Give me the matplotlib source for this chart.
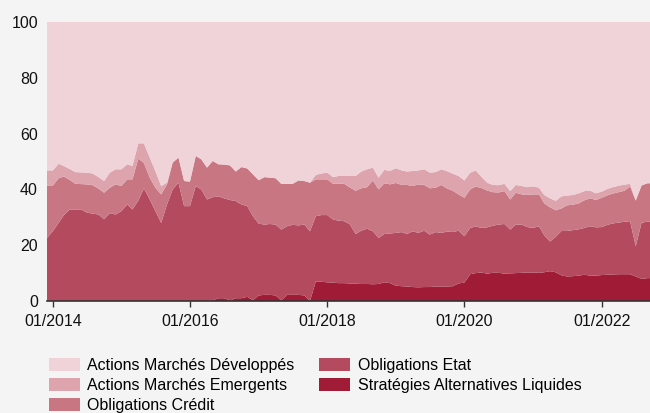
import matplotlib
matplotlib.use("Agg")
import matplotlib.pyplot as plt
import matplotlib.dates as mdates
from matplotlib.patches import Patch
import pandas as pd
import numpy as np

plt.rcParams['font.family'] = ['Liberation Sans', 'DejaVu Sans']

dates = pd.date_range('2013-12-01', periods=107, freq='MS')

strategies = ([0] * 29 +
              [0.3, 1.0, 1.0, 0.2, 1.0, 1.0, 1.5, 0.3, 2.0, 2.2, 2.2, 2.0, 0.2, 2.2, 2.2, 2.2, 2.0, 0] +
              [7.0, 6.9, 6.7, 6.6, 6.4, 6.4, 6.3, 6.2, 6.1, 6.1,
               6.0, 6.1, 6.7, 6.4, 5.5, 5.3, 5.2, 5.0, 4.9, 5.0,
               5.0, 5.2, 5.2, 5.2, 5.3, 6.3, 6.6, 9.6, 10.0, 10.2,
               9.8, 10.1, 10.1, 9.8, 9.9, 10.0, 10.1, 10.2, 10.2, 10.1,
               10.3, 10.7, 10.3, 9.2, 8.8, 8.9, 9.1, 9.4, 9.1, 9.1,
               9.3, 9.4, 9.5, 9.6, 9.6, 9.6, 8.8, 7.9, 8.2, 8.2])
etat = [22.6, 25.0, 28.0, 30.8, 32.8, 32.8, 32.8, 31.7, 31.3, 31.0, 29.3, 31.5, 31.0, 32.2, 34.6,
        32.8, 36.0, 40.3, 36.4, 32.2, 28.0, 34.6, 40.0, 42.4, 34.0, 34.0, 41.2, 40.0, 36.4, 36.9,
        36.5, 35.8, 36.0, 34.8, 33.6, 32.5, 30.1, 25.7, 25.2, 25.4, 25.4, 25.4, 24.6, 25.1, 24.9,
        25.4, 25.0, 23.4, 23.9, 24.1, 22.6, 22.4, 22.2, 21.2, 17.8, 19.1, 19.8, 19.0, 16.5, 17.3,
        17.8, 18.9, 19.4, 18.8, 20.0, 19.5, 20.2, 18.8, 19.5, 19.2, 19.7, 19.4, 18.9, 16.6, 16.6,
        16.7, 16.0, 16.6, 16.9, 17.3, 17.8, 15.7, 17.4, 17.3, 16.3, 16.0, 16.7, 13.2, 10.6, 12.7,
        15.9, 16.3, 16.5, 16.6, 16.8, 17.7, 17.3, 17.2, 17.9, 18.3, 18.5, 18.8, 19.0, 10.8, 20.1,
        20.3, 20.3]
credit = [18.8, 16.4, 16.0, 13.8, 10.6, 9.2, 9.1, 10.1, 10.2, 9.3, 9.5, 9.1, 10.8, 9.0, 9.0,
          10.8, 15.0, 9.2, 7.8, 8.4, 10.2, 7.2, 9.6, 9.0, 9.0, 8.8, 10.8, 10.8, 11.4, 13.0, 11.5,
          12.1, 12.4, 10.6, 13.4, 13.5, 15.0, 15.6, 17.0, 16.6, 16.6, 16.4, 15.2, 14.7, 16.1, 15.6,
          17.4, 13.2, 12.8, 12.8, 12.8, 13.2, 13.4, 13.2, 15.5, 15.2, 14.9, 18.2, 17.4, 18.2, 17.6,
          17.9, 16.9, 17.6, 16.2, 17.4, 16.4, 16.6, 15.9, 17.2, 15.4, 14.8, 13.0, 13.8, 13.8, 14.3,
          14.3, 13.2, 12.0, 11.5, 11.8, 10.8, 11.4, 10.8, 11.5, 12.0, 11.4, 11.5, 12.3, 9.5, 8.1,
          9.2, 9.1, 9.3, 9.9, 10.0, 9.8, 10.5, 10.6, 10.7, 10.9, 11.1, 12.4, 16.4, 13.4, 13.7, 13.7]
emergents = ([5.4, 5.4, 5.2, 3.8, 3.9, 4.2, 4.2, 4.2, 4.2, 4.1, 4.2, 5.4, 5.4, 6.0, 5.4, 4.8, 5.5,
              7.0, 7.2, 6.0, 3.0, 0.6] +
             [0] * 25 +
             [1.6, 2.1, 2.4, 2.4, 2.8, 3.0, 4.1, 5.3, 6.0, 6.4,
              4.6, 4.2, 4.8, 4.8, 5.3, 5.2, 4.8, 5.4, 5.0, 5.6,
              5.6, 5.6, 5.6, 6.2, 6.1, 6.6, 6.2, 6.0, 5.8, 4.0,
              2.8, 2.6, 2.6, 2.6, 3.0, 2.8, 3.0, 2.8, 2.9, 2.4,
              3.0, 3.2, 3.4, 4.3, 3.5, 3.5, 3.6, 3.3, 2.7, 2.4,
              2.2, 2.3, 2.3, 2.3, 2.2, 1.0, 0, 0, 0, 0])
developpes = [53.2, 53.2, 50.8, 51.6, 52.7, 53.8, 53.9, 54.0, 54.3, 55.6, 57.0, 54.0, 52.8, 52.8,
              51.0, 51.6, 43.5, 43.5, 48.6, 53.4, 58.8, 57.6, 50.4, 48.6, 57.0, 57.2, 48.0, 49.2,
              52.2, 49.8, 51.0, 51.1, 51.4, 53.6, 52.0, 52.5, 54.6, 56.7, 55.6, 55.8, 56.0, 58.0,
              58.0, 58.0, 56.8, 57.0, 57.6, 54.8, 54.3, 54.0, 55.6, 55.2, 55.0, 55.2, 55.2, 53.6,
              52.8, 52.2, 55.8, 53.0, 53.4, 52.4, 53.2, 53.6, 53.4, 53.2, 52.8, 54.0, 53.8, 52.8,
              53.5, 54.4, 55.2, 56.8, 54.0, 53.2, 55.5, 57.6, 58.4, 58.5, 58.0, 60.6, 58.4, 58.8,
              59.2, 58.9, 59.4, 62.0, 63.2, 64.1, 62.5, 62.2, 62.0, 61.4, 60.6, 60.5, 61.4, 60.8,
              59.8, 59.2, 58.7, 58.3, 58.0, 64.0, 58.6, 57.8, 57.8]

labels = ['Stratégies Alternatives Liquides', 'Obligations Etat', 'Obligations Crédit',
          'Actions Marchés Emergents', 'Actions Marchés Développés']
colors = ['#a01b35', '#b34a5d', '#c97683', '#dea4ae', '#efd3d8']
bg = '#f4f4f4'

fig = plt.figure(figsize=(6.5, 4.13), dpi=100, facecolor=bg)
ax = fig.add_axes([47/650, 1-301/413, 603/650, 279/413])
ax.set_facecolor(bg)
ax.stackplot(dates, strategies, etat, credit, emergents, developpes,
             colors=colors, linewidth=0)

ax.set_xlim(pd.Timestamp('2013-12-01'), pd.Timestamp('2022-09-15'))
ax.set_ylim(0, 100)
ax.set_yticks([0, 20, 40, 60, 80, 100])
ax.xaxis.set_major_locator(mdates.YearLocator(2))
ax.xaxis.set_major_formatter(mdates.DateFormatter('%m/%Y'))
for s in ['top', 'right', 'left']:
    ax.spines[s].set_visible(False)
ax.spines['bottom'].set_color('#333333')
ax.spines['bottom'].set_linewidth(1.2)
ax.tick_params(axis='y', length=0, pad=6.5, labelsize=11.5, colors='#111111')
ax.tick_params(axis='x', length=4, width=1, color='#333333', pad=5.5, labelsize=11.5,
               labelcolor='#111111')

handles = [Patch(facecolor=c, edgecolor='none') for c in colors]
order = [4, 3, 2, 1, 0]
fig.legend([handles[i] for i in order], [labels[i] for i in order],
           loc='upper left', bbox_to_anchor=(49/650, 1-358/413), ncol=2,
           frameon=False, fontsize=11.5, handlelength=1.95, handleheight=0.875,
           handletextpad=0.45, columnspacing=1.55, labelspacing=0.3, borderpad=0,
           borderaxespad=0)

fig.savefig('out.png', dpi=100, facecolor=bg)
